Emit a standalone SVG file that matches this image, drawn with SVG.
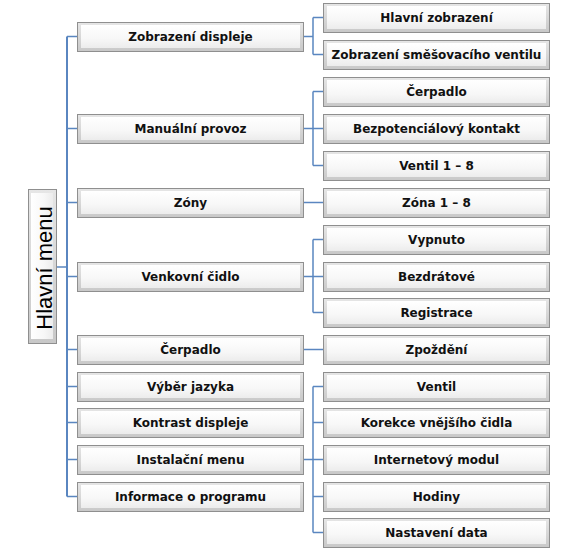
<svg xmlns="http://www.w3.org/2000/svg" width="578" height="550" viewBox="0 0 578 550">
<defs>
<linearGradient id="face" x1="0" y1="0" x2="0" y2="1">
<stop offset="0" stop-color="#ffffff"/>
<stop offset="0.6" stop-color="#f7f7f7"/>
<stop offset="1" stop-color="#ececec"/>
</linearGradient>
<linearGradient id="edge" x1="0" y1="0" x2="0" y2="1">
<stop offset="0" stop-color="#e6e6e6"/>
<stop offset="1" stop-color="#c8c8c8"/>
</linearGradient>
<linearGradient id="faceV" x1="0" y1="0" x2="1" y2="0">
<stop offset="0" stop-color="#ffffff"/>
<stop offset="0.6" stop-color="#f7f7f7"/>
<stop offset="1" stop-color="#ececec"/>
</linearGradient>
</defs>
<style>
.o{fill:url(#edge);stroke:#8f8f8f;stroke-width:1}
.i{fill:url(#face);stroke:none}
.iv{fill:url(#faceV);stroke:none}
.t{font-family:"DejaVu Sans",Verdana,sans-serif;font-weight:bold;font-size:12px;fill:#111;text-anchor:middle}
.r{font-family:"Liberation Sans",Arial,sans-serif;font-size:22px;fill:#000;text-anchor:middle}
.c{fill:none;stroke:#5a86c0;stroke-width:1.5}
.tr{fill:none;stroke:#5a86c0;stroke-width:2}
</style>
<rect width="578" height="550" fill="#fff"/>
<g id="connectors">
<path class="tr" d="M67,36.5 V496.5"/>
<path class="c" d="M57,267 H67 M67,36.5 H77 M67,128.5 H77 M67,202.5 H77 M67,276.5 H77 M67,349.5 H77 M67,386.5 H77 M67,422.5 H77 M67,459.5 H77 M67,496.5 H77"/>
<path class="c" d="M303,36.5 H313 M313,17.5 V54.5 M313,17.5 H323 M313,54.5 H323"/>
<path class="c" d="M303,128.5 H313 M313,91.5 V165.5 M313,91.5 H323 M313,128.5 H323 M313,165.5 H323"/>
<path class="c" d="M303,202.5 H323"/>
<path class="c" d="M303,276.5 H313 M313,239.5 V312.5 M313,239.5 H323 M313,276.5 H323 M313,312.5 H323"/>
<path class="c" d="M303,349.5 H323"/>
<path class="c" d="M303,459.5 H313 M313,386.5 V532.5 M313,386.5 H323 M313,422.5 H323 M313,459.5 H323 M313,496.5 H323 M313,532.5 H323"/>
</g>
<g id="root">
<rect class="o" x="28.5" y="189.5" width="28" height="154"/>
<rect class="iv" x="31" y="193" width="22" height="146"/>
<text class="r" transform="translate(51.5,268) rotate(-90)">Hlavní menu</text>
</g>
<g id="n-zobrazeni-displeje">
<rect class="o" x="77.5" y="22.5" width="226" height="29"/><rect class="i" x="81" y="25" width="219" height="23"/>
<text class="t" x="190.5" y="41">Zobrazení displeje</text>
</g>
<g id="n-manualni-provoz">
<rect class="o" x="77.5" y="114.5" width="226" height="29"/><rect class="i" x="81" y="117" width="219" height="23"/>
<text class="t" x="190.5" y="133">Manuální provoz</text>
</g>
<g id="n-zony">
<rect class="o" x="77.5" y="188.5" width="226" height="29"/><rect class="i" x="81" y="191" width="219" height="23"/>
<text class="t" x="190.5" y="207">Zóny</text>
</g>
<g id="n-venkovni-cidlo">
<rect class="o" x="77.5" y="262.5" width="226" height="29"/><rect class="i" x="81" y="265" width="219" height="23"/>
<text class="t" x="190.5" y="281">Venkovní čidlo</text>
</g>
<g id="n-cerpadlo">
<rect class="o" x="77.5" y="335.5" width="226" height="29"/><rect class="i" x="81" y="338" width="219" height="23"/>
<text class="t" x="190.5" y="354">Čerpadlo</text>
</g>
<g id="n-vyber-jazyka">
<rect class="o" x="77.5" y="372.5" width="226" height="29"/><rect class="i" x="81" y="375" width="219" height="23"/>
<text class="t" x="190.5" y="391">Výběr jazyka</text>
</g>
<g id="n-kontrast-displeje">
<rect class="o" x="77.5" y="408.5" width="226" height="29"/><rect class="i" x="81" y="411" width="219" height="23"/>
<text class="t" x="190.5" y="427">Kontrast displeje</text>
</g>
<g id="n-instalacni-menu">
<rect class="o" x="77.5" y="445.5" width="226" height="29"/><rect class="i" x="81" y="448" width="219" height="23"/>
<text class="t" x="190.5" y="464">Instalační menu</text>
</g>
<g id="n-informace">
<rect class="o" x="77.5" y="482.5" width="226" height="29"/><rect class="i" x="81" y="485" width="219" height="23"/>
<text class="t" x="190.5" y="501">Informace o programu</text>
</g>
<g id="n-hlavni-zobrazeni">
<rect class="o" x="323.5" y="3.5" width="226" height="29"/><rect class="i" x="327" y="6" width="219" height="23"/>
<text class="t" x="436.5" y="22">Hlavní zobrazení</text>
</g>
<g id="n-zobrazeni-smesovaciho">
<rect class="o" x="323.5" y="40.5" width="226" height="29"/><rect class="i" x="327" y="43" width="219" height="23"/>
<text class="t" x="436.5" y="59">Zobrazení směšovacího ventilu</text>
</g>
<g id="n-cerpadlo2">
<rect class="o" x="323.5" y="77.5" width="226" height="29"/><rect class="i" x="327" y="80" width="219" height="23"/>
<text class="t" x="436.5" y="96">Čerpadlo</text>
</g>
<g id="n-bezpotencialovy">
<rect class="o" x="323.5" y="114.5" width="226" height="29"/><rect class="i" x="327" y="117" width="219" height="23"/>
<text class="t" x="436.5" y="133">Bezpotenciálový kontakt</text>
</g>
<g id="n-ventil18">
<rect class="o" x="323.5" y="151.5" width="226" height="29"/><rect class="i" x="327" y="154" width="219" height="23"/>
<text class="t" x="436.5" y="170">Ventil 1 – 8</text>
</g>
<g id="n-zona18">
<rect class="o" x="323.5" y="188.5" width="226" height="29"/><rect class="i" x="327" y="191" width="219" height="23"/>
<text class="t" x="436.5" y="207">Zóna 1 – 8</text>
</g>
<g id="n-vypnuto">
<rect class="o" x="323.5" y="225.5" width="226" height="29"/><rect class="i" x="327" y="228" width="219" height="23"/>
<text class="t" x="436.5" y="244">Vypnuto</text>
</g>
<g id="n-bezdratove">
<rect class="o" x="323.5" y="262.5" width="226" height="29"/><rect class="i" x="327" y="265" width="219" height="23"/>
<text class="t" x="436.5" y="281">Bezdrátové</text>
</g>
<g id="n-registrace">
<rect class="o" x="323.5" y="298.5" width="226" height="29"/><rect class="i" x="327" y="301" width="219" height="23"/>
<text class="t" x="436.5" y="317">Registrace</text>
</g>
<g id="n-zpozdeni">
<rect class="o" x="323.5" y="335.5" width="226" height="29"/><rect class="i" x="327" y="338" width="219" height="23"/>
<text class="t" x="436.5" y="354">Zpoždění</text>
</g>
<g id="n-ventil">
<rect class="o" x="323.5" y="372.5" width="226" height="29"/><rect class="i" x="327" y="375" width="219" height="23"/>
<text class="t" x="436.5" y="391">Ventil</text>
</g>
<g id="n-korekce">
<rect class="o" x="323.5" y="408.5" width="226" height="29"/><rect class="i" x="327" y="411" width="219" height="23"/>
<text class="t" x="436.5" y="427">Korekce vnějšího čidla</text>
</g>
<g id="n-internetovy">
<rect class="o" x="323.5" y="445.5" width="226" height="29"/><rect class="i" x="327" y="448" width="219" height="23"/>
<text class="t" x="436.5" y="464">Internetový modul</text>
</g>
<g id="n-hodiny">
<rect class="o" x="323.5" y="482.5" width="226" height="29"/><rect class="i" x="327" y="485" width="219" height="23"/>
<text class="t" x="436.5" y="501">Hodiny</text>
</g>
<g id="n-nastaveni-data">
<rect class="o" x="323.5" y="518.5" width="226" height="29"/><rect class="i" x="327" y="521" width="219" height="23"/>
<text class="t" x="436.5" y="537">Nastavení data</text>
</g>
</svg>
